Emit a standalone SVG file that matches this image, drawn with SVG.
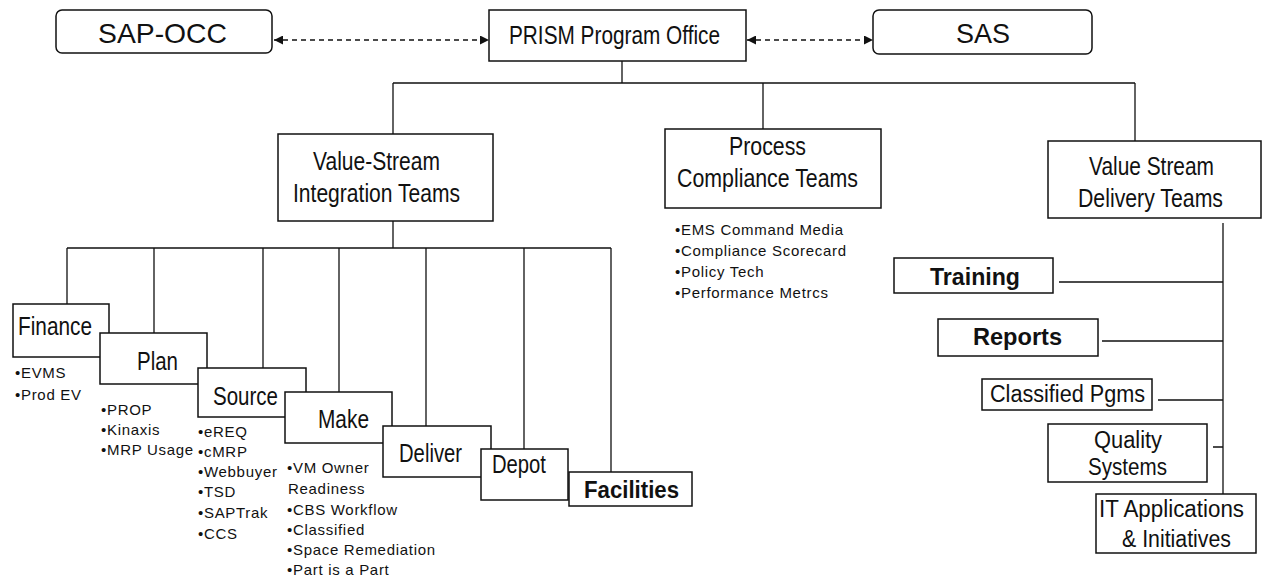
<svg xmlns="http://www.w3.org/2000/svg" width="1262" height="581" viewBox="0 0 1262 581">
<style>
  .box { fill: #fff; stroke: #111; stroke-width: 1.5; }
  .lbl { font-family: "Liberation Sans", Arial, sans-serif; font-size: 25px; fill: #111; }
  .big { font-size: 28px; }
  .bold { font-weight: bold; font-size: 23px; }
  .sm { font-size: 23px; }
  .lst { font-family: "Liberation Sans", Arial, sans-serif; font-size: 15px; letter-spacing: 0.7px; fill: #111; }
  .con { fill: none; stroke: #111; stroke-width: 1.3; }
  .dash { fill: none; stroke: #111; stroke-width: 1.5; stroke-dasharray: 5 4; }
</style>
<defs>
  <marker id="ah" viewBox="0 0 10 10" refX="10" refY="5" markerWidth="9" markerHeight="9" markerUnits="userSpaceOnUse" orient="auto-start-reverse">
    <path d="M0,0 L10,5 L0,10 z" fill="#111"/>
  </marker>
</defs>
<rect width="1262" height="581" fill="#fff"/>

<g id="connectors">
  <path class="dash" d="M274 40 H489" marker-start="url(#ah)" marker-end="url(#ah)"/>
  <path class="dash" d="M747 40 H873" marker-start="url(#ah)" marker-end="url(#ah)"/>
  <path class="con" d="M622 61 V83 M393 83 H1135 M393 83 V134 M763 83 V129 M1135 83 V141"/>
  <path class="con" d="M393 221 V248 M67 248 H611 M67 248 V304 M154 248 V333 M263 248 V368 M339 248 V392 M426 248 V426 M524 248 V449 M611 248 V472"/>
  <path class="con" d="M1223 223 V494 M1059 282 H1223 M1102 341 H1223 M1158 400 H1223 M1213 447 H1223"/>
</g>

<g id="sap-occ">
  <rect class="box" x="56" y="10" width="216" height="43" rx="6"/>
  <text class="lbl big" x="98" y="43" textLength="129" lengthAdjust="spacingAndGlyphs">SAP-OCC</text>
</g>
<g id="prism">
  <rect class="box" x="489" y="10" width="257" height="51"/>
  <text class="lbl" x="509" y="44" textLength="211" lengthAdjust="spacingAndGlyphs">PRISM Program Office</text>
</g>
<g id="sas">
  <rect class="box" x="873" y="10" width="219" height="44" rx="6"/>
  <text class="lbl big" x="956" y="43" textLength="54" lengthAdjust="spacingAndGlyphs">SAS</text>
</g>

<g id="vsi">
  <rect class="box" x="278" y="134" width="215" height="87"/>
  <text class="lbl" x="313" y="170" textLength="127" lengthAdjust="spacingAndGlyphs">Value-Stream</text>
  <text class="lbl" x="293" y="202" textLength="167" lengthAdjust="spacingAndGlyphs">Integration Teams</text>
</g>
<g id="pct">
  <rect class="box" x="665" y="129" width="216" height="79"/>
  <text class="lbl" x="729" y="155" textLength="77" lengthAdjust="spacingAndGlyphs">Process</text>
  <text class="lbl" x="677" y="187" textLength="181" lengthAdjust="spacingAndGlyphs">Compliance Teams</text>
  <text class="lst" x="675" y="235">•EMS Command Media</text>
  <text class="lst" x="675" y="256">•Compliance Scorecard</text>
  <text class="lst" x="675" y="277">•Policy Tech</text>
  <text class="lst" x="675" y="298">•Performance Metrcs</text>
</g>
<g id="vsd">
  <rect class="box" x="1048" y="141" width="213" height="77"/>
  <text class="lbl" x="1089" y="175" textLength="125" lengthAdjust="spacingAndGlyphs">Value Stream</text>
  <text class="lbl" x="1078" y="207" textLength="145" lengthAdjust="spacingAndGlyphs">Delivery Teams</text>
</g>

<g id="finance">
  <rect class="box" x="13" y="304" width="96" height="53"/>
  <text class="lbl" x="18" y="335" textLength="74" lengthAdjust="spacingAndGlyphs">Finance</text>
  <text class="lst" x="15" y="378">•EVMS</text>
  <text class="lst" x="15" y="400">•Prod EV</text>
</g>
<g id="plan">
  <rect class="box" x="100" y="333" width="107" height="51"/>
  <text class="lbl" x="137" y="370" textLength="41" lengthAdjust="spacingAndGlyphs">Plan</text>
  <text class="lst" x="101" y="415">•PROP</text>
  <text class="lst" x="101" y="435">•Kinaxis</text>
  <text class="lst" x="101" y="455">•MRP Usage</text>
</g>
<g id="source">
  <rect class="box" x="198" y="368" width="108" height="49"/>
  <text class="lbl" x="213" y="405" textLength="65" lengthAdjust="spacingAndGlyphs">Source</text>
  <text class="lst" x="198" y="437">•eREQ</text>
  <text class="lst" x="198" y="457">•cMRP</text>
  <text class="lst" x="198" y="477">•Webbuyer</text>
  <text class="lst" x="198" y="497">•TSD</text>
  <text class="lst" x="198" y="518">•SAPTrak</text>
  <text class="lst" x="198" y="539">•CCS</text>
</g>
<g id="make">
  <rect class="box" x="285" y="392" width="107" height="51"/>
  <text class="lbl" x="318" y="428" textLength="51" lengthAdjust="spacingAndGlyphs">Make</text>
  <text class="lst" x="287" y="473">•VM Owner</text>
  <text class="lst" x="288" y="494">Readiness</text>
  <text class="lst" x="287" y="515">•CBS Workflow</text>
  <text class="lst" x="287" y="535">•Classified</text>
  <text class="lst" x="287" y="555">•Space Remediation</text>
  <text class="lst" x="287" y="575">•Part is a Part</text>
</g>
<g id="deliver">
  <rect class="box" x="383" y="426" width="108" height="51"/>
  <text class="lbl" x="399" y="462" textLength="63" lengthAdjust="spacingAndGlyphs">Deliver</text>
</g>
<g id="depot">
  <rect class="box" x="481" y="449" width="87" height="51"/>
  <text class="lbl" x="492" y="473" textLength="54" lengthAdjust="spacingAndGlyphs">Depot</text>
</g>
<g id="facilities">
  <rect class="box" x="569" y="472" width="123" height="34"/>
  <text class="lbl bold" x="584" y="498" textLength="95" lengthAdjust="spacingAndGlyphs">Facilities</text>
</g>

<g id="training">
  <rect class="box" x="894" y="258" width="159" height="35"/>
  <text class="lbl bold" x="930" y="285" textLength="90" lengthAdjust="spacingAndGlyphs">Training</text>
</g>
<g id="reports">
  <rect class="box" x="938" y="319" width="160" height="37"/>
  <text class="lbl bold" x="973" y="345" textLength="89" lengthAdjust="spacingAndGlyphs">Reports</text>
</g>
<g id="classified">
  <rect class="box" x="982" y="379" width="170" height="31"/>
  <text class="lbl sm" x="990" y="402" textLength="155" lengthAdjust="spacingAndGlyphs">Classified Pgms</text>
</g>
<g id="quality">
  <rect class="box" x="1048" y="424" width="159" height="58"/>
  <text class="lbl sm" x="1094" y="448" textLength="68" lengthAdjust="spacingAndGlyphs">Quality</text>
  <text class="lbl sm" x="1088" y="475" textLength="79" lengthAdjust="spacingAndGlyphs">Systems</text>
</g>
<g id="it">
  <rect class="box" x="1096" y="494" width="160" height="59"/>
  <text class="lbl sm" x="1099" y="517" textLength="145" lengthAdjust="spacingAndGlyphs">IT Applications</text>
  <text class="lbl sm" x="1122" y="547" textLength="109" lengthAdjust="spacingAndGlyphs">&amp; Initiatives</text>
</g>
</svg>
